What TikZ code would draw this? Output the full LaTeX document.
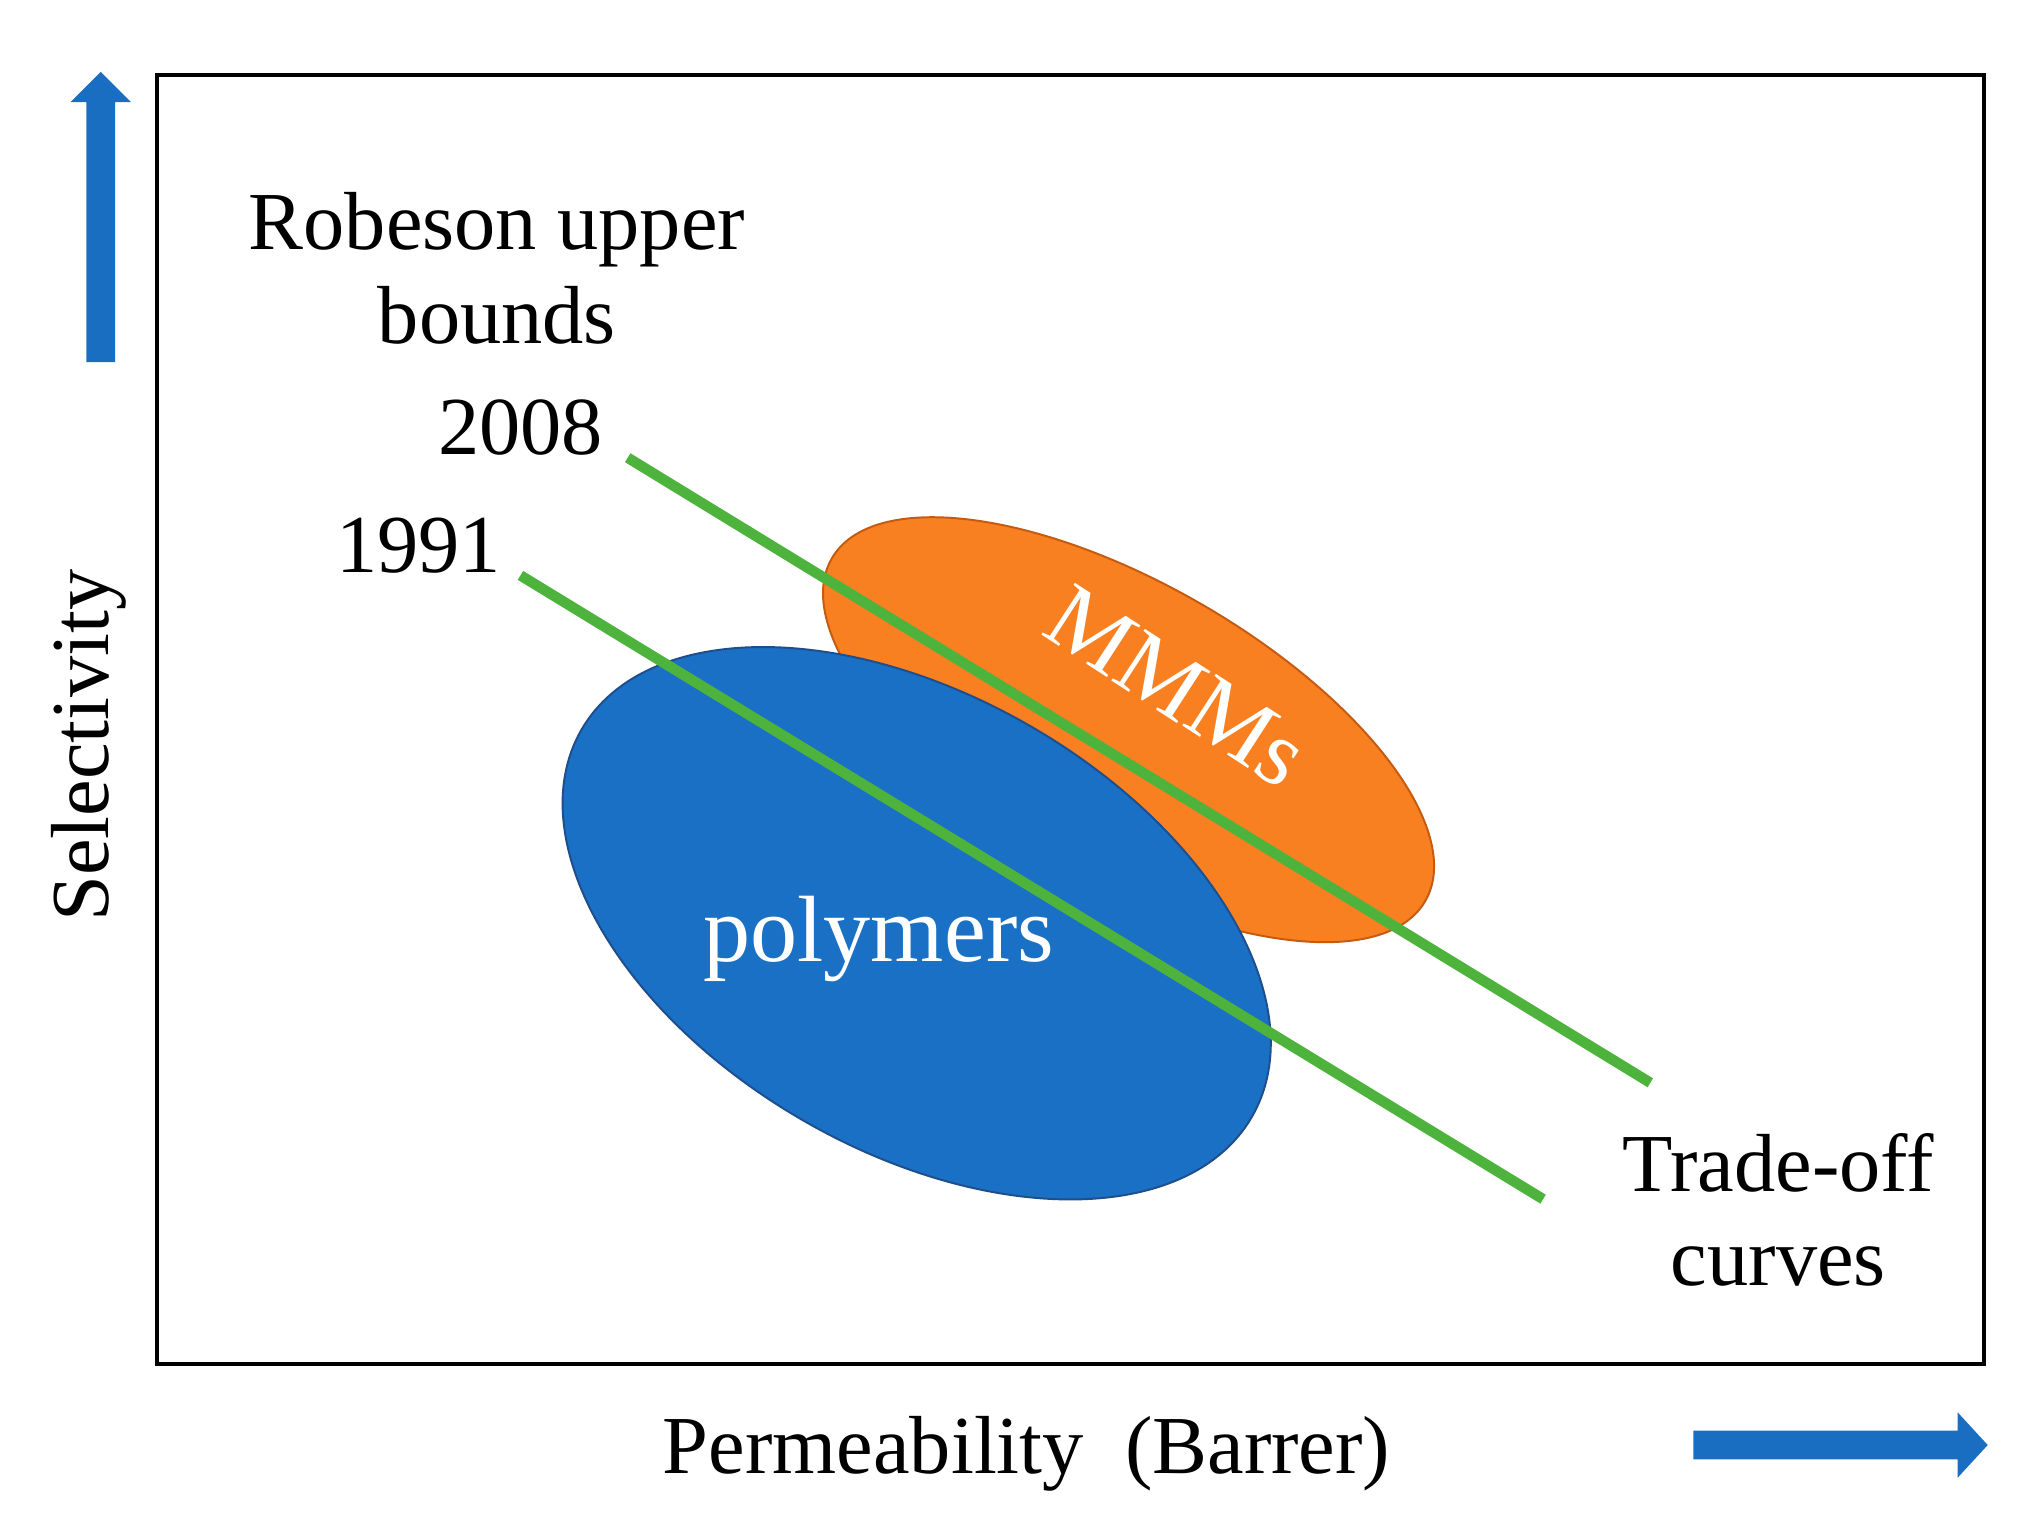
\documentclass[tikz,border=0pt]{standalone}
\usepackage{fontspec}
\setmainfont{Liberation Serif}
\begin{document}
\begin{tikzpicture}[x=1pt,y=-1pt,
 lbl/.style={font=\fontsize{63}{72}\selectfont, align=center, inner sep=0},
 big/.style={font=\fontsize{72}{80}\selectfont, inner sep=0, text=white},
 bluea/.style={fill=arrowblue, draw=none},
 trade/.style={draw=tradegreen, line width=8pt}]
\definecolor{arrowblue}{HTML}{1A6EC2}
\definecolor{polyblue}{HTML}{1A70C4}
\definecolor{polyedge}{HTML}{1F4E8C}
\definecolor{mmmor}{HTML}{F98020}
\definecolor{mmmedge}{HTML}{C55A11}
\definecolor{tradegreen}{HTML}{4DB33D}
\useasboundingbox (0,0) rectangle (1560,1163);
\fill[fill=mmmor, draw=mmmedge, line width=1.5pt, rotate around={-30:(863,558)}] (863,558) ellipse [x radius=262, y radius=111];
\fill[fill=polyblue, draw=polyedge, line width=1.5pt, rotate around={-30:(701,706)}] (701,706) ellipse [x radius=296, y radius=174];
\node[big, rotate=-33] (mmm) at (900,525) {MMMs};
\node[big] (poly) at (672,718) {polymers};
\coordinate (a1) at (480,350); \coordinate (a2) at (1262,828);
\coordinate (b1) at (398,440); \coordinate (b2) at (1180,917);
\draw[trade] (a1) -- (a2);
\draw[trade] (b1) -- (b2);
\draw[line width=3pt] (120,57) rectangle (1517,1043);
\node[lbl] (rob) at (380,205) {Robeson upper\\bounds};
\node[lbl] (y08) at (398,327) {2008};
\node[lbl] (y91) at (320,417) {1991};
\node[lbl] (trd) at (1360,925) {Trade-off\\curves};
\node[lbl] (perm) at (785,1112) {Permeability\ \ (Barrer)};
\node[lbl, rotate=90] (sel) at (68,570) {Selectivity};
\fill[bluea] (66,277) -- (66,78) -- (54,78) -- (77,55) -- (100,78) -- (88,78) -- (88,277) -- cycle;
\fill[bluea] (1295,1094) -- (1497,1094) -- (1497,1080) -- (1520,1105) -- (1497,1130) -- (1497,1116) -- (1295,1116) -- cycle;
\end{tikzpicture}
\end{document}
